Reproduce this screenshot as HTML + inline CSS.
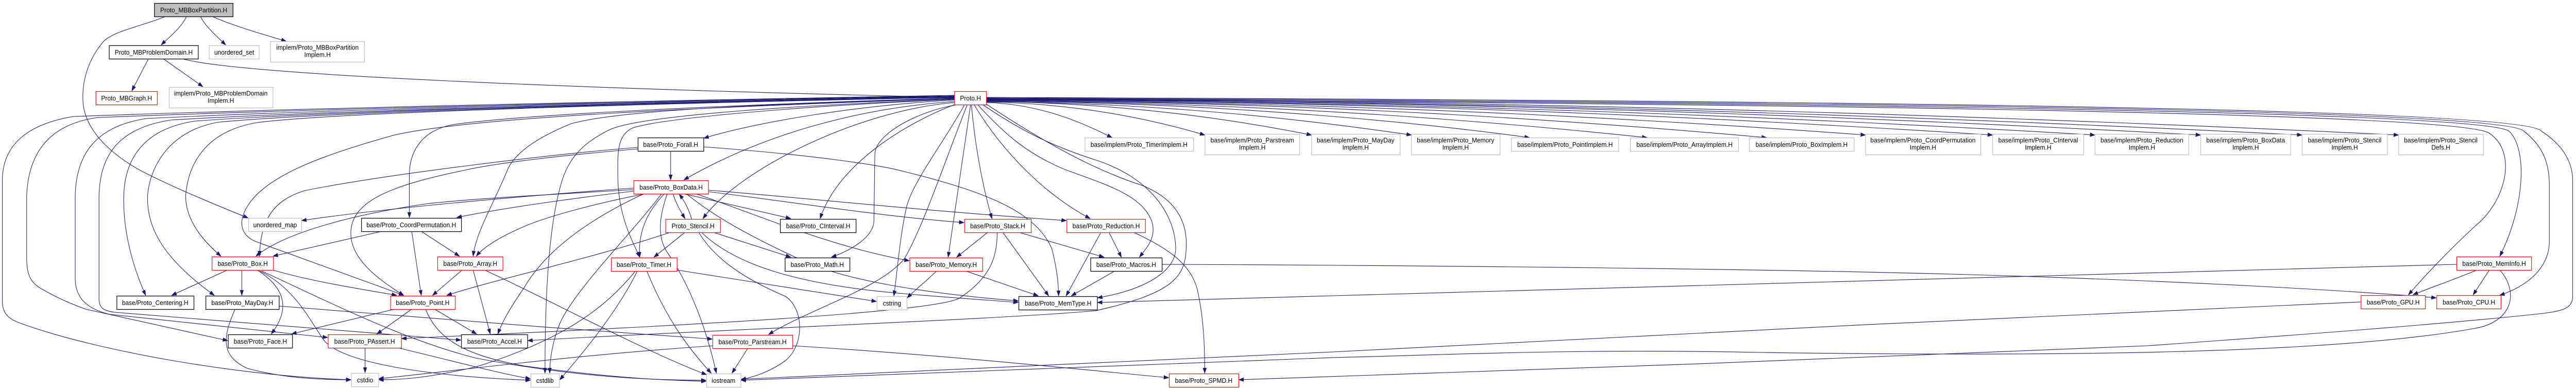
<!DOCTYPE html>
<html>
<head>
<meta charset="utf-8">
<style>
html,body{margin:0;padding:0;background:#fff;width:100%;height:100%;overflow:hidden;}
svg{display:block;width:100vw;height:100vh;position:absolute;left:0;top:0;}
text{font-family:"Liberation Sans",Arial,sans-serif;font-size:13px;fill:#000;text-anchor:middle;}
.e{fill:none;stroke:#191970;stroke-width:1.1;marker-end:url(#a);}
.r{fill:#fff;stroke:#ff0000;stroke-width:1.2;}
.k{fill:#fff;stroke:#000;stroke-width:1.3;}
.g{fill:#fff;stroke:#bfbfbf;stroke-width:1.3;}
.root{fill:#bfbfbf;stroke:#000;stroke-width:1.3;}
</style>
</head>
<body>
<svg viewBox="0 0 5412 753" preserveAspectRatio="none" xmlns="http://www.w3.org/2000/svg">
<defs>
<marker id="a" markerWidth="11" markerHeight="8" refX="10" refY="4" orient="auto" markerUnits="userSpaceOnUse">
<path d="M0,0.5 L10,4 L0,7.5 z" fill="#191970" stroke="#191970" stroke-width="1"/>
</marker>
</defs>

<!-- ===== EDGES ===== -->
<g>
<!-- root / MBProblemDomain -->
<path class="e" d="M392,32 C380,55 355,72 339,87"/>
<path class="e" d="M421,32 C432,52 455,70 474,87"/>
<path class="e" d="M446,32 C490,50 550,66 601,80"/>
<path class="e" d="M348,32 C300,50 240,60 218,80 C185,115 170,160 175,205 C185,265 250,310 310,338 C380,370 460,400 521,423"/>
<path class="e" d="M312,114 L277,176"/>
<path class="e" d="M343,114 L426,168"/>
<path class="e" d="M383,114 C500,145 1200,172 2004,189"/>

<!-- Proto.H -> implem row -->
<path class="e" d="M2072,199 C2191,202 2283,242 2336,267"/>
<path class="e" d="M2072,198 C2280,201 2440,237 2531,262"/>
<path class="e" d="M2072,197 C2380,200 2620,237 2755,262"/>
<path class="e" d="M2072,197 C2470,200 2780,237 2965,262"/>
<path class="e" d="M2072,196 C2580,199 3000,240 3213,267"/>
<path class="e" d="M2072,196 C2700,199 3180,240 3460,267"/>
<path class="e" d="M2072,195 C2810,198 3380,240 3711,267"/>
<path class="e" d="M2072,195 C2900,198 3550,237 3919,262"/>
<path class="e" d="M2072,194 C3020,197 3760,237 4186,262"/>
<path class="e" d="M2072,194 C3120,197 3940,237 4401,262"/>
<path class="e" d="M2072,193 C3220,196 4120,237 4623,262"/>
<path class="e" d="M2072,193 C3310,196 4290,237 4836,262"/>
<path class="e" d="M2072,192 C3400,195 4450,236 5039,262"/>

<!-- far right -->
<path class="e" d="M2072,192 C3500,200 5150,215 5229,258 C5290,295 5265,390 5201,438 C5140,490 5090,540 5060,572"/>
<path class="e" d="M2072,191 C3500,198 5220,212 5272,255 C5310,290 5305,400 5252,497"/>
<path class="e" d="M2072,190 C3500,196 5270,208 5303,255 C5345,285 5356,320 5356,360 L5356,468 C5356,520 5310,555 5252,573"/>
<path class="e" d="M2072,189 C3500,194 5310,205 5340,255 C5390,285 5405,320 5405,350 L5405,575 C5405,598 5385,603 5345,608 C5150,628 4800,652 4512,671 C4100,690 3000,725 2603,737"/>
<path class="e" d="M5252,524 C5295,570 5275,625 5201,637 C4900,688 4300,692 3700,684 C3300,676 3000,690 2800,694 C2300,712 1800,732 1557,738"/>
<path class="e" d="M4960,586 C4400,605 3300,660 2800,683 C2300,705 1800,728 1557,736"/>
<path class="e" d="M2441,513 C3000,515 3700,522 4100,532 C4600,545 4950,565 5118,578"/>
<path class="e" d="M5161,513 C4600,522 3700,548 2800,574 C2600,580 2400,585 2306,587"/>
<path class="e" d="M5204,524 C5150,545 5100,560 5070,572"/>
<path class="e" d="M5230,524 L5196,572"/>

<!-- Proto.H left / down -->
<path class="e" d="M2005,194 C1800,205 1600,235 1479,268"/>
<path class="e" d="M2005,197 C1800,210 1600,262 1437,349"/>
<path class="e" d="M2005,199 C1800,215 1550,330 1477,424"/>
<path class="e" d="M2008,202 C1900,240 1760,320 1723,424"/>
<path class="e" d="M2012,203 C1930,215 1838,260 1838,300 L1836,430 C1834,460 1790,485 1747,499"/>
<path class="e" d="M2032,204 C1990,300 1940,440 1900,502 C1850,560 1700,600 1615,649"/>
<path class="e" d="M2026,204 C1980,280 1920,350 1905,400 C1890,460 1885,530 1878,574"/>
<path class="e" d="M2039,204 L1992,499"/>
<path class="e" d="M2041,204 C2050,300 2070,380 2084,424"/>
<path class="e" d="M2047,204 C2110,300 2200,380 2290,424"/>
<path class="e" d="M2055,204 C2110,260 2160,300 2240,330 C2330,360 2400,380 2420,430 C2430,460 2410,480 2394,499"/>
<path class="e" d="M2066,204 C2140,250 2200,280 2300,310 C2420,345 2470,420 2470,483 C2470,520 2420,560 2306,578"/>
<path class="e" d="M2072,202 C2200,280 2300,330 2400,360 C2480,390 2495,440 2492,483 C2490,540 2460,570 2302,603 C2100,620 1500,640 1109,661"/>
<path class="e" d="M2005,193 C1700,205 1400,228 1330,248 C1295,262 1298,300 1298,340 C1298,420 1330,470 1344,499"/>
<path class="e" d="M2005,192 C1700,204 1350,222 1280,252 C1220,280 1190,310 1175,370 C1150,460 1145,600 1145,724"/>
<path class="e" d="M2005,191 C1600,202 1300,214 1200,240 C1120,270 1080,300 1066,330 C1040,390 1000,450 994,497"/>
<path class="e" d="M2005,190 C1500,205 1100,222 950,242 C880,255 860,300 860,340 L860,422"/>
<path class="e" d="M2005,191 C1500,208 1000,226 829,262 C680,300 560,340 520,400 C500,430 505,455 535,468 L848,573"/>
<path class="e" d="M2005,189 C1400,200 700,218 540,238 C430,255 395,320 390,380 C390,430 430,470 464,497"/>
<path class="e" d="M2005,189 C1400,200 700,216 460,237 C360,252 315,320 310,380 C308,440 340,500 450,573"/>
<path class="e" d="M2005,188 C1400,199 700,215 410,235 C300,250 262,310 260,380 C258,450 280,520 306,573"/>
<path class="e" d="M2005,188 C1400,198 700,214 358,233 C240,250 210,310 208,380 L208,580 C208,598 218,603 240,606 L968,660"/>
<path class="e" d="M2005,187 C1400,197 700,212 308,230 C200,245 160,300 158,380 L158,540 C158,580 185,600 230,610 L688,655"/>
<path class="e" d="M2005,186 C1400,196 700,210 206,228 C110,240 60,290 56,380 L56,500 C56,535 65,550 90,562 C120,578 150,590 180,600 L478,661"/>
<path class="e" d="M2005,185 C1400,195 700,208 155,226 C60,240 5,280 5,350 L5,585 C5,610 20,620 45,628 C200,680 500,730 737,737"/>

<!-- Forall -->
<path class="e" d="M1340,286 C1150,300 800,340 640,370 C570,390 548,430 545,497"/>
<path class="e" d="M1340,289 C1200,300 1050,315 978,330 C820,360 740,390 737,450 C735,500 790,540 848,573"/>
<path class="e" d="M1409,293 L1409,349"/>
<path class="e" d="M1478,285 C1700,300 1850,320 1900,333 C2070,372 2176,410 2210,483 C2220,520 2224,550 2224,574"/>

<!-- BoxData -->
<path class="e" d="M1331,365 C1100,380 800,405 634,428"/>
<path class="e" d="M1331,368 C1150,378 1000,385 900,395 C750,415 600,450 538,497"/>
<path class="e" d="M1331,371 C1200,385 1050,405 960,422"/>
<path class="e" d="M1356,376 C1250,395 1150,420 1100,440 C1050,460 1015,480 1001,497"/>
<path class="e" d="M1353,376 C1250,420 1150,480 1100,560 C1070,600 1055,625 1046,648"/>
<path class="e" d="M1390,376 C1330,450 1220,550 1180,620 C1160,660 1155,700 1155,724"/>
<path class="e" d="M1396,376 C1360,410 1340,450 1344,499"/>
<path class="e" d="M1402,376 C1385,420 1380,460 1402,490 C1440,540 1480,620 1505,724"/>
<path class="e" d="M1414,376 C1420,395 1430,410 1439,424"/>
<path class="e" d="M1453,425 C1447,405 1438,390 1427,377"/>
<path class="e" d="M1436,376 L1661,424"/>
<path class="e" d="M1442,376 C1500,420 1574,458 1689,507 C1780,545 1950,570 2139,584"/>
<path class="e" d="M1459,375 C1600,420 1750,480 1910,506"/>
<path class="e" d="M1488,369 C1700,385 1950,410 2240,428"/>
<path class="e" d="M1488,372 C1650,390 1850,420 2025,432"/>

<!-- Stencil -->
<path class="e" d="M1439,451 L1374,499"/>
<path class="e" d="M1499,451 L1661,499"/>
<path class="e" d="M1408,451 C1250,500 1050,540 939,573"/>
<path class="e" d="M1468,451 C1500,500 1560,540 1650,575 C1690,600 1690,670 1650,700 C1620,720 1590,730 1557,737"/>
<path class="e" d="M1474,451 C1550,520 1700,555 1900,570 C2000,578 2100,584 2139,587"/>

<!-- Timer -->
<path class="e" d="M1422,524 L1841,585"/>
<path class="e" d="M1339,526 C1300,600 1230,680 1176,737"/>
<path class="e" d="M1359,526 C1400,620 1450,680 1494,724"/>
<path class="e" d="M1335,526 C1270,600 1180,660 1000,712 C900,733 850,737 796,737"/>

<!-- Parstream -->
<path class="e" d="M1571,676 L1538,724"/>
<path class="e" d="M1665,671 C2000,690 2300,720 2455,733"/>
<path class="e" d="M1497,671 C1200,690 1000,715 796,735"/>

<!-- Stack / Reduction / Memory / Macros -->
<path class="e" d="M2075,451 L2010,499"/>
<path class="e" d="M2107,451 L2203,574"/>
<path class="e" d="M2141,451 L2319,499"/>
<path class="e" d="M2095,451 C2095,500 2080,540 2015,579 C1960,605 1500,630 844,657"/>
<path class="e" d="M2313,451 L2240,574"/>
<path class="e" d="M2330,451 L2356,499"/>
<path class="e" d="M2382,451 C2450,480 2500,510 2515,560 C2530,620 2531,680 2531,724"/>
<path class="e" d="M2029,526 L2181,574"/>
<path class="e" d="M1968,526 C1940,550 1920,565 1906,578"/>
<path class="e" d="M2342,526 L2251,574"/>

<!-- Box -->
<path class="e" d="M478,524 L361,573"/>
<path class="e" d="M508,524 L508,573"/>
<path class="e" d="M573,524 C650,545 750,560 833,573"/>
<path class="e" d="M542,525 C600,560 610,600 570,648"/>
<path class="e" d="M546,526 C620,560 650,620 680,660 C720,705 900,730 1114,738"/>
<path class="e" d="M550,526 C700,590 850,660 1000,695 C1200,730 1350,738 1483,738"/>

<!-- MayDay -->
<path class="e" d="M494,600 C470,650 460,690 520,715 C600,735 680,737 737,737"/>
<path class="e" d="M586,594 C800,610 1200,640 1496,658"/>

<!-- Point -->
<path class="e" d="M829,600 L613,648"/>
<path class="e" d="M865,600 L792,648"/>
<path class="e" d="M913,600 L1001,648"/>
<path class="e" d="M894,600 C920,660 980,690 1100,710 C1300,735 1400,738 1483,740"/>

<!-- PAssert -->
<path class="e" d="M767,675 L767,723"/>
<path class="e" d="M831,674 C950,700 1050,725 1114,735"/>

<!-- Array -->
<path class="e" d="M971,524 L909,573"/>
<path class="e" d="M994,524 L1030,648"/>
<path class="e" d="M1018,524 C1150,580 1350,680 1484,727"/>

<!-- CoordPermutation -->
<path class="e" d="M802,449 L574,497"/>
<path class="e" d="M865,449 L885,573"/>
<path class="e" d="M885,449 L965,497"/>
</g>

<!-- ===== NODES ===== -->
<g>
<rect class="root" x="324.5" y="6.5" width="165" height="26"/><text x="407" y="24">Proto_MBBoxPartition.H</text>
<rect class="k" x="229.5" y="88.5" width="187" height="26"/><text x="323" y="106">Proto_MBProblemDomain.H</text>
<rect class="g" x="439.5" y="88.5" width="105" height="26"/><text x="492" y="106">unordered_set</text>
<rect class="g" x="568.5" y="80.5" width="197" height="40"/><text x="667" y="96.5">implem/Proto_MBBoxPartition</text><text x="667" y="110.5">Implem.H</text>
<rect class="r" x="201.5" y="177.5" width="129" height="26"/><text x="266" y="195">Proto_MBGraph.H</text>
<rect class="g" x="355.5" y="169.5" width="218" height="40"/><text x="464" y="185.5">implem/Proto_MBProblemDomain</text><text x="464" y="199.5">Implem.H</text>
<rect class="r" x="2005.5" y="177.5" width="67" height="26"/><text x="2039" y="195">Proto.H</text>

<rect class="g" x="2279.5" y="267.5" width="228" height="26"/><text x="2393" y="285">base/implem/Proto_TimerImplem.H</text>
<rect class="g" x="2531.5" y="260.5" width="199" height="40"/><text x="2631" y="276.5">base/implem/Proto_Parstream</text><text x="2631" y="290.5">Implem.H</text>
<rect class="g" x="2755.5" y="260.5" width="186" height="40"/><text x="2848" y="276.5">base/implem/Proto_MayDay</text><text x="2848" y="290.5">Implem.H</text>
<rect class="g" x="2965.5" y="260.5" width="186" height="40"/><text x="3058" y="276.5">base/implem/Proto_Memory</text><text x="3058" y="290.5">Implem.H</text>
<rect class="g" x="3175.5" y="267.5" width="225" height="26"/><text x="3288" y="285">base/implem/Proto_PointImplem.H</text>
<rect class="g" x="3425.5" y="267.5" width="227" height="26"/><text x="3539" y="285">base/implem/Proto_ArrayImplem.H</text>
<rect class="g" x="3675.5" y="267.5" width="220" height="26"/><text x="3785" y="285">base/implem/Proto_BoxImplem.H</text>
<rect class="g" x="3919.5" y="260.5" width="242" height="40"/><text x="4040" y="276.5">base/implem/Proto_CoordPermutation</text><text x="4040" y="290.5">Implem.H</text>
<rect class="g" x="4186.5" y="260.5" width="191" height="40"/><text x="4282" y="276.5">base/implem/Proto_CInterval</text><text x="4282" y="290.5">Implem.H</text>
<rect class="g" x="4401.5" y="260.5" width="197" height="40"/><text x="4500" y="276.5">base/implem/Proto_Reduction</text><text x="4500" y="290.5">Implem.H</text>
<rect class="g" x="4623.5" y="260.5" width="189" height="40"/><text x="4718" y="276.5">base/implem/Proto_BoxData</text><text x="4718" y="290.5">Implem.H</text>
<rect class="g" x="4836.5" y="260.5" width="179" height="40"/><text x="4926" y="276.5">base/implem/Proto_Stencil</text><text x="4926" y="290.5">Implem.H</text>
<rect class="g" x="5039.5" y="260.5" width="178" height="40"/><text x="5128" y="276.5">base/implem/Proto_Stencil</text><text x="5128" y="290.5">Defs.H</text>

<rect class="k" x="1340.5" y="267.5" width="138" height="26"/><text x="1409" y="285">base/Proto_Forall.H</text>
<rect class="r" x="1331.5" y="350.5" width="157" height="26"/><text x="1410" y="368">base/Proto_BoxData.H</text>

<rect class="g" x="522.5" y="423.5" width="111" height="26"/><text x="578" y="441">unordered_map</text>
<rect class="k" x="759.5" y="423.5" width="210" height="26"/><text x="864" y="441">base/Proto_CoordPermutation.H</text>
<rect class="r" x="1398.5" y="425.5" width="115" height="26"/><text x="1456" y="443">Proto_Stencil.H</text>
<rect class="k" x="1639.5" y="425.5" width="159" height="26"/><text x="1719" y="443">base/Proto_CInterval.H</text>
<rect class="r" x="2026.5" y="425.5" width="140" height="26"/><text x="2096" y="443">base/Proto_Stack.H</text>
<rect class="r" x="2241.5" y="425.5" width="165" height="26"/><text x="2324" y="443">base/Proto_Reduction.H</text>

<rect class="r" x="445.5" y="498.5" width="129" height="26"/><text x="510" y="516">base/Proto_Box.H</text>
<rect class="r" x="919.5" y="498.5" width="137" height="26"/><text x="988" y="516">base/Proto_Array.H</text>
<rect class="r" x="1284.5" y="500.5" width="138" height="26"/><text x="1353" y="518">base/Proto_Timer.H</text>
<rect class="k" x="1649.5" y="500.5" width="136" height="26"/><text x="1717" y="518">base/Proto_Math.H</text>
<rect class="r" x="1911.5" y="500.5" width="153" height="26"/><text x="1988" y="518">base/Proto_Memory.H</text>
<rect class="k" x="2291.5" y="500.5" width="150" height="26"/><text x="2366" y="518">base/Proto_Macros.H</text>
<rect class="r" x="5161.5" y="498.5" width="157" height="26"/><text x="5240" y="516">base/Proto_MemInfo.H</text>

<rect class="k" x="245.5" y="574.5" width="162" height="26"/><text x="326" y="592">base/Proto_Centering.H</text>
<rect class="k" x="432.5" y="574.5" width="154" height="26"/><text x="509" y="592">base/Proto_MayDay.H</text>
<rect class="r" x="820.5" y="574.5" width="136" height="26"/><text x="888" y="592">base/Proto_Point.H</text>
<rect class="g" x="1842.5" y="575.5" width="63" height="26"/><text x="1874" y="593">cstring</text>
<rect class="k" x="2140.5" y="575.5" width="165" height="26"/><text x="2223" y="593">base/Proto_MemType.H</text>
<rect class="r" x="4960.5" y="573.5" width="135" height="26"/><text x="5028" y="591">base/Proto_GPU.H</text>
<rect class="r" x="5119.5" y="573.5" width="135" height="26"/><text x="5187" y="591">base/Proto_CPU.H</text>

<rect class="k" x="479.5" y="649.5" width="135" height="26"/><text x="547" y="667">base/Proto_Face.H</text>
<rect class="r" x="689.5" y="649.5" width="154" height="26"/><text x="766" y="667">base/Proto_PAssert.H</text>
<rect class="k" x="969.5" y="649.5" width="139" height="26"/><text x="1039" y="667">base/Proto_Accel.H</text>
<rect class="r" x="1497.5" y="650.5" width="168" height="26"/><text x="1581" y="668">base/Proto_Parstream.H</text>

<rect class="g" x="738.5" y="724.5" width="57" height="26"/><text x="767" y="742">cstdio</text>
<rect class="g" x="1115.5" y="725.5" width="60" height="26"/><text x="1145" y="743">cstdlib</text>
<rect class="g" x="1484.5" y="725.5" width="72" height="26"/><text x="1520" y="743">iostream</text>
<rect class="r" x="2456.5" y="725.5" width="146" height="26"/><text x="2529" y="743">base/Proto_SPMD.H</text>
</g>
</svg>
</body>
</html>
